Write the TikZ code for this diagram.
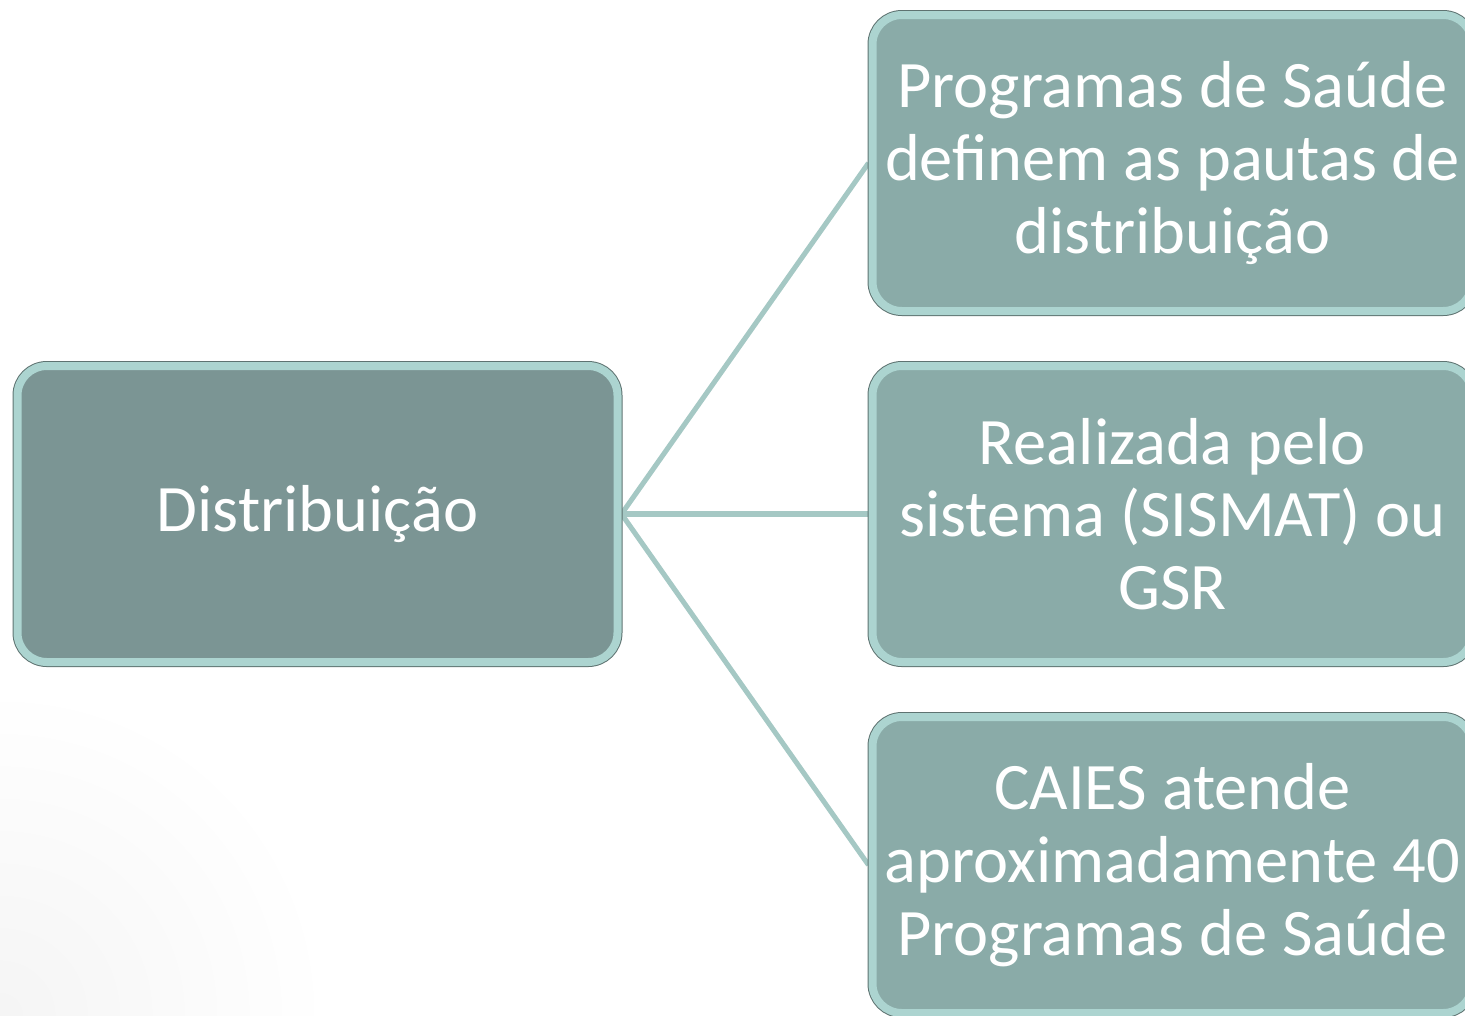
\documentclass[tikz,border=0pt]{standalone}
\usepackage{fontspec}
\setmainfont{Carlito}
\usetikzlibrary{backgrounds}
\definecolor{leftfill}{HTML}{7B9594}
\definecolor{rightfill}{HTML}{8AABA8}
\definecolor{bevel}{HTML}{ACD4D0}
\definecolor{edge}{HTML}{5E7371}
\definecolor{link}{HTML}{A5C8C4}
\tikzset{
  bevelbox/.style={rectangle, rounded corners=22pt, minimum width=450pt, minimum height=222pt,
    inner sep=0pt, draw=bevel, line width=6pt, preaction={draw=edge, line width=7.5pt},
    text=white, align=center, font=\fontsize{49.8}{54.5}\selectfont},
  leftbox/.style={bevelbox, fill=leftfill},
  rightbox/.style={bevelbox, fill=rightfill},
  linkline/.style={draw=link, line width=3.8pt}
}
\begin{document}
\begin{tikzpicture}[x=0.75pt,y=-0.75pt]
\useasboundingbox (0,0) rectangle (1465,1015);
\clip (0,0) rectangle (1465,1015);
\shade[inner color=black!4, outer color=white] (0,1015) circle (330);
\node[leftbox] (dist) at (317.5,514) {Distribuição};
\node[rightbox] (prog) at (1172.5,163) {Programas de Saúde\\definem as pautas de\\distribuição};
\node[rightbox] (real) at (1172.5,514) {Realizada pelo\\sistema (SISMAT) ou\\GSR};
\node[rightbox] (caies) at (1172.5,865) {CAIES atende\\aproximadamente 40\\Programas de Saúde};
\begin{scope}[on background layer]
\draw[linkline] (dist.east) -- (prog.west);
\draw[linkline] (dist.east) -- (real.west);
\draw[linkline] (dist.east) -- (caies.west);
\end{scope}
\end{tikzpicture}
\end{document}
